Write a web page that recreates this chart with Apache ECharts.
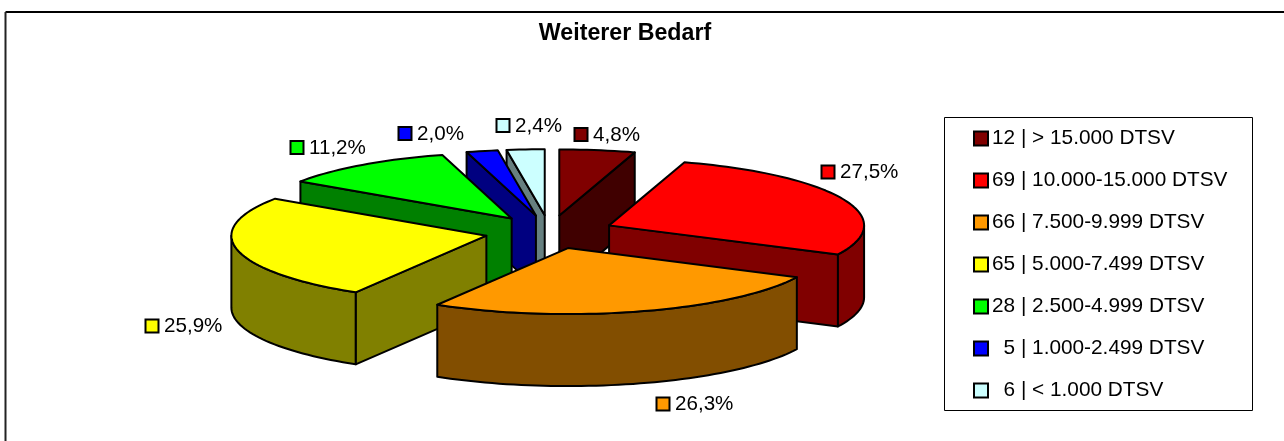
<!DOCTYPE html>
<html>
<head>
<meta charset="utf-8">
<style>html,body{margin:0;padding:0;background:#fff}#c{width:1284px;height:441px}</style>
<script src="https://cdn.jsdelivr.net/npm/echarts@6/dist/echarts.min.js"></script>
</head>
<body>
<div id="c"></div>
<script>
const title = 'Weiterer Bedarf';
const ranges = ['> 15.000 DTSV', '10.000-15.000 DTSV', '7.500-9.999 DTSV', '5.000-7.499 DTSV', '2.500-4.999 DTSV', '1.000-2.499 DTSV', '< 1.000 DTSV'];
const counts = [12, 69, 66, 65, 28, 5, 6];
const topColors = ['#800000', '#FF0000', '#FF9900', '#FFFF00', '#00FF00', '#0000FF', '#CCFFFF'];
const sideColors = ['#400000', '#800000', '#824E00', '#808000', '#008000', '#000080', '#668080'];

// layout of the projected pie
const CX = 549.6, CY = 232, RX = 255, RY = 66, DEPTH = 72, EXPLODE = 0.254;
const paintRank = [0, 4, 6, 5, 3, 2, 1];
const labelPlace = [[573.5, 134.5], [820.5, 172], [655.5, 404], [144.5, 326], [289.5, 147.5], [397.5, 133.5], [495.5, 125.5]];
const FONT = 'Liberation Sans, Arial, sans-serif';
const FS = 20.6;
const LEGEND_FS = 20.8;

const total = counts.reduce((a, b) => a + b, 0);
const names = counts.map((c, i) => (c < 10 ? '\u0020\u0020' : '') + c + ' | ' + ranges[i]);
const pct = counts.map(c => (c / total * 100).toFixed(1).replace('.', ',') + '%');
const starts = [];
counts.reduce((acc, c, i) => { starts[i] = acc; return acc + c / total * 2 * Math.PI; }, 0);

function pt(ox, oy, a, r) { return [ox + RX * r * Math.sin(a), oy - RY * r * Math.cos(a)]; }
function down(p) { return [p[0], p[1] + DEPTH]; }

function sliceRender(i) {
  return function () {
    const a0 = starts[i], a1 = a0 + counts[i] / total * 2 * Math.PI, mid = (a0 + a1) / 2;
    const apex = pt(CX, CY, mid, EXPLODE), ox = apex[0], oy = apex[1];
    const style = (fill) => ({ fill: fill, stroke: '#000', lineWidth: 2, lineJoin: 'round' });
    const children = [];
    const arcPts = (s, e) => {
      const n = Math.max(2, Math.ceil((e - s) / 0.03)), out = [];
      for (let k = 0; k <= n; k++) out.push(pt(ox, oy, s + (e - s) * k / n, 1));
      return out;
    };
    const wall = (pts) => children.push({
      type: 'polygon',
      shape: { points: pts.concat(pts.slice().reverse().map(down)) },
      style: style(sideColors[i])
    });
    if (Math.sin(a0) < -1e-6) wall([apex, pt(ox, oy, a0, 1)]);
    if (Math.sin(a1) > 1e-6) wall([apex, pt(ox, oy, a1, 1)]);
    const fs = Math.max(a0, Math.PI / 2), fe = Math.min(a1, 3 * Math.PI / 2);
    if (fe > fs) wall(arcPts(fs, fe));
    children.push({
      type: 'polygon',
      shape: { points: [apex].concat(arcPts(a0, a1)) },
      style: style(topColors[i])
    });
    return { type: 'group', children: children };
  };
}

const series = counts.map((c, i) => ({
  type: 'custom',
  name: names[i],
  coordinateSystem: 'none',
  z: 2 + paintRank[i],
  silent: true,
  animation: false,
  itemStyle: { color: topColors[i], borderColor: '#000', borderWidth: 2 },
  data: [[c]],
  renderItem: sliceRender(i)
}));

const labelGraphics = [];
labelPlace.forEach((p, i) => {
  labelGraphics.push({
    type: 'rect', shape: { x: p[0] + 1, y: p[1] - 6.5, width: 13, height: 13 },
    style: { fill: topColors[i], stroke: '#000', lineWidth: 2 }, z: 20
  });
  labelGraphics.push({
    type: 'text', x: p[0] + 19.5, y: p[1] + 0.5,
    style: { text: pct[i], font: FS + 'px ' + FONT, fill: '#000', verticalAlign: 'middle' }, z: 20
  });
});

const chart = echarts.init(document.getElementById('c'), null, { renderer: 'canvas' });
chart.setOption({
  animation: false,
  backgroundColor: '#fff',
  title: {
    text: title, left: 620, top: 17, textAlign: 'center',
    textStyle: { fontFamily: FONT, fontWeight: 'bold', fontSize: 23.2, color: '#000' }
  },
  legend: {
    orient: 'vertical', left: 973, top: 128, padding: 0,
    itemWidth: 14, itemHeight: 14, itemGap: 21,
    icon: 'rect', selectedMode: false,
    data: names,
    textStyle: { fontFamily: FONT, fontSize: LEGEND_FS, color: '#000', padding: [0, 0, 0, -1] }
  },
  graphic: {
    elements: [
      { type: 'line', shape: { x1: 5.5, y1: 12, x2: 1284, y2: 12 }, style: { stroke: '#000', lineWidth: 2 }, z: 0 },
      { type: 'line', shape: { x1: 5.5, y1: 12, x2: 5.5, y2: 441 }, style: { stroke: '#222', lineWidth: 2 }, z: 0 },
      { type: 'rect', shape: { x: 944.5, y: 117.5, width: 308, height: 293 }, style: { fill: '#fff', stroke: '#000', lineWidth: 1 }, z: 1 }
    ].concat(labelGraphics)
  },
  series: series
});
</script>
</body>
</html>
